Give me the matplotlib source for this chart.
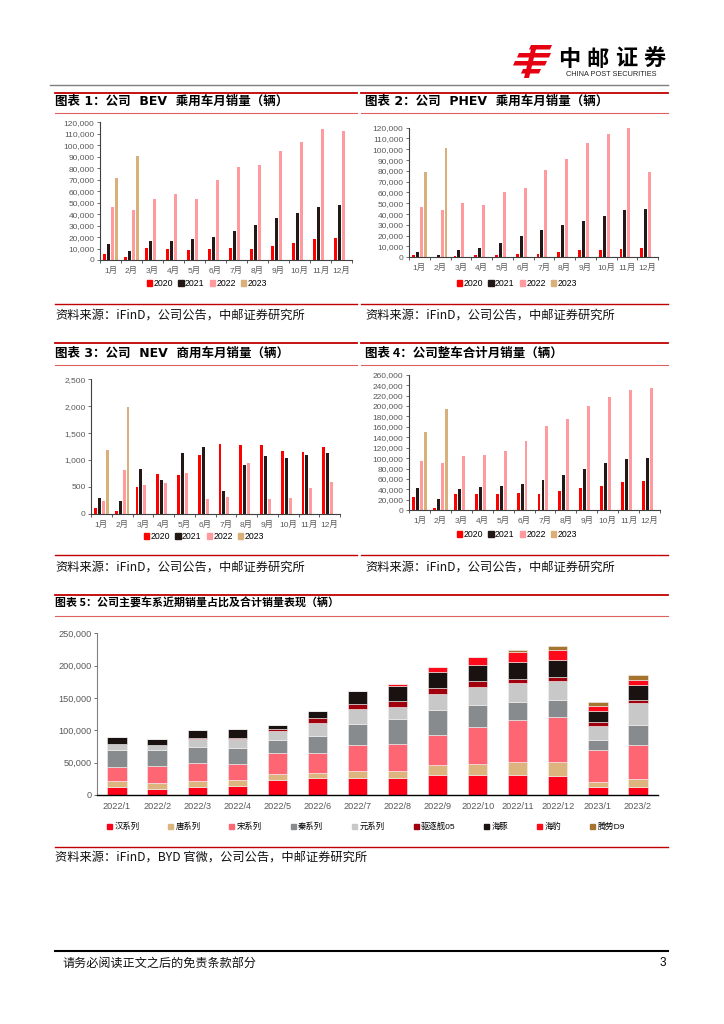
import matplotlib
matplotlib.use("Agg")
import matplotlib.pyplot as plt
import matplotlib.ticker as mtick
from matplotlib.patches import Polygon, Patch
import numpy as np

plt.rcParams["font.family"] = ["Liberation Sans", "Noto Sans CJK SC", "DejaVu Sans"]

W, H = 724, 1024

# ── data ──────────────────────────────────────────────────────────────────────
months = [f"{i}月" for i in range(1, 13)]
years = ["2020", "2021", "2022", "2023"]
year_colors = ["#FF0000", "#231815", "#FF9B9E", "#D9B07A"]

bev_2020 = [5000, 2500, 10500, 9800, 8300, 9800, 10500, 9500, 12000, 15000, 18000, 19500]
bev_2021 = [14000, 7800, 16300, 16200, 18500, 20000, 25000, 30500, 36500, 41000, 46000, 48000]
bev_2022 = [46500, 43500, 53500, 57500, 53200, 69500, 81000, 82500, 95000, 103000, 114000, 112000]
bev_2023 = [71500, 91000]

phev_2020 = [1800, 300, 1000, 2000, 2000, 3000, 3300, 4800, 6300, 7000, 7500, 8200]
phev_2021 = [5000, 2000, 7000, 9000, 13000, 20000, 25000, 30000, 34000, 38500, 43500, 44500]
phev_2022 = [46500, 44000, 50500, 48000, 60500, 64000, 81000, 91000, 106000, 114000, 120000, 79000]
phev_2023 = [79000, 101000]

cv_2020 = [100, 50, 490, 740, 720, 1100, 1300, 1275, 1280, 1170, 1140, 1250]
cv_2021 = [300, 230, 830, 630, 1120, 1250, 430, 900, 1075, 1035, 1095, 1125]
cv_2022 = [240, 810, 540, 570, 760, 270, 315, 940, 280, 300, 480, 595]
cv_2023 = [1180, 1990]

total_2020 = [25500, 4500, 30700, 31300, 31300, 33900, 31300, 37000, 43400, 47300, 54300, 56200]
total_2021 = [42200, 21000, 40900, 45400, 46600, 51100, 57500, 68400, 79200, 90100, 98400, 99700]
total_2022 = [95200, 90700, 104800, 106000, 114400, 133500, 161700, 174400, 200600, 217200, 230000, 234500]
total_2023 = [150800, 193600]

periods = ["2022/1", "2022/2", "2022/3", "2022/4", "2022/5", "2022/6", "2022/7",
           "2022/8", "2022/9", "2022/10", "2022/11", "2022/12", "2023/1", "2023/2"]
series_names = ["汉系列", "唐系列", "宋系列", "秦系列", "元系列", "驱逐舰05", "海豚", "海豹", "腾势D9"]
series_colors = ["#FF0019", "#DDB47E", "#FF6673", "#888B8D", "#C8C8C8", "#A0000E", "#1A1210", "#FF0A1A", "#A57530"]
han = [12800, 8700, 12800, 13300, 23600, 25600, 25600, 25600, 31300, 31300, 31300, 29700, 11800, 11800]
tang = [9200, 10300, 9200, 10300, 8200, 7700, 11800, 10800, 15400, 16900, 20000, 20600, 8700, 12300]
song = [21300, 25600, 27700, 25100, 32800, 31800, 39500, 43100, 46100, 56900, 64600, 70700, 49800, 53300]
qin = [26700, 24600, 24700, 23600, 20000, 26200, 32800, 38400, 39000, 33900, 27700, 25700, 14300, 30300]
yuan = [8200, 8800, 12800, 14400, 13900, 20000, 22600, 18500, 24100, 28200, 29700, 29700, 22600, 33800]
qzj05 = [0, 0, 1000, 2000, 4000, 7700, 7700, 9200, 9200, 9200, 6200, 5700, 5600, 5200]
dolphin = [10700, 8700, 11800, 12800, 5600, 10200, 20500, 23100, 24600, 25100, 26100, 26100, 16900, 23600]
seal = [0, 0, 0, 0, 0, 0, 0, 2600, 7700, 11800, 15400, 15900, 7200, 7100]
d9 = [0, 0, 0, 0, 0, 0, 0, 0, 0, 0, 2500, 5600, 6200, 7700]

# ── layout helpers ────────────────────────────────────────────────────────────
fig = plt.figure(figsize=(W / 100, H / 100), dpi=100)
page = fig.add_axes([0, 0, 1, 1])
page.set_xlim(0, W)
page.set_ylim(H, 0)
page.axis("off")


def px_axes(left, top, right, bottom):
    return fig.add_axes([left / W, 1 - bottom / H, (right - left) / W, (bottom - top) / H])


def fpos(x, y):
    return (x / W, 1 - y / H)


tick_color = "#595959"
kfmt = mtick.FuncFormatter(lambda v, _: f"{v:,.0f}")


def month_chart(box, data, ymax, step, legend_x, legend_y):
    ax = px_axes(*box)
    x = np.arange(12)
    for k, (vals, col) in enumerate(zip(data, year_colors)):
        xs = x[:len(vals)] + (k - 1.5) * 0.19
        ax.bar(xs, vals, width=0.14, color=col, linewidth=0)
    ax.set_xlim(-0.5, 11.5)
    ax.set_ylim(0, ymax)
    ax.yaxis.set_major_locator(mtick.MultipleLocator(step))
    ax.yaxis.set_major_formatter(kfmt)
    ax.set_xticks(x)
    ax.set_xticklabels(months)
    ax.set_xticks(np.arange(-0.5, 12, 1), minor=True)
    ax.tick_params(axis="x", which="major", length=0, labelsize=6, colors=tick_color, pad=5)
    ax.tick_params(axis="x", which="minor", length=2.5, width=0.6, color="#404040")
    ax.tick_params(axis="y", length=2.5, width=0.6, labelsize=6, colors=tick_color, pad=1.5)
    for s in ["top", "right"]:
        ax.spines[s].set_visible(False)
    ax.spines["left"].set_color("#404040")
    ax.spines["left"].set_linewidth(0.8)
    ax.spines["bottom"].set_color("#404040")
    ax.spines["bottom"].set_linewidth(0.8)
    handles = [Patch(color=c) for c in year_colors]
    fig.legend(handles, years, loc="center", bbox_to_anchor=fpos(legend_x, legend_y), ncol=4,
               frameon=False, fontsize=6.3, handlelength=0.6, handleheight=0.6,
               handletextpad=0.15, columnspacing=0.6, borderpad=0)
    return ax


month_chart((100, 122.3, 352, 260), [bev_2020, bev_2021, bev_2022, bev_2023], 120000, 10000, 207, 283.5)
month_chart((409, 127.7, 658, 257.3), [phev_2020, phev_2021, phev_2022, phev_2023], 120000, 10000, 517, 283.5)
month_chart((91, 379.3, 340, 513.7), [cv_2020, cv_2021, cv_2022, cv_2023], 2500, 500, 204, 536.5)
month_chart((409, 374.7, 660, 510.3), [total_2020, total_2021, total_2022, total_2023], 260000, 20000, 517, 534.5)

# ── chart 5: stacked series ───────────────────────────────────────────────────
ax5 = px_axes(97, 633.3, 658, 795)
xp = np.arange(len(periods))
bottom = np.zeros(len(periods))
for vals, col in zip([han, tang, song, qin, yuan, qzj05, dolphin, seal, d9], series_colors):
    v = np.array(vals, dtype=float)
    ax5.bar(xp, v, bottom=bottom, width=0.48, color=col, edgecolor="#F2F2F2", linewidth=0.4)
    bottom += v
ax5.set_xlim(-0.5, len(periods) - 0.5)
ax5.set_ylim(0, 250000)
ax5.yaxis.set_major_locator(mtick.MultipleLocator(50000))
ax5.yaxis.set_major_formatter(kfmt)
ax5.set_xticks(xp)
ax5.set_xticklabels(periods)
ax5.tick_params(axis="x", length=0, labelsize=6.6, colors=tick_color, pad=5)
ax5.tick_params(axis="y", length=2.5, width=0.6, labelsize=6.6, colors=tick_color, pad=1.5)
for s in ["top", "right"]:
    ax5.spines[s].set_visible(False)
ax5.spines["left"].set_color("#808080")
ax5.spines["left"].set_linewidth(0.8)
ax5.spines["bottom"].set_color("black")
ax5.spines["bottom"].set_linewidth(1.0)
handles5 = [Patch(color=c) for c in series_colors]
fig.legend(handles5, series_names, loc="center", bbox_to_anchor=fpos(366, 827), ncol=9,
           frameon=False, fontsize=6, handlelength=0.6, handleheight=0.6,
           handletextpad=0.3, columnspacing=3.45, borderpad=0)

# ── page furniture ────────────────────────────────────────────────────────────
red = "#C00000"
cjk = ["Noto Sans CJK SC", "DejaVu Sans"]
title_kw = dict(fontsize=9, fontweight="bold", va="center", ha="left", family=cjk)
wide_title_kw = {**title_kw, "family": ["DejaVu Sans", "Noto Sans CJK SC"]}
src_kw = dict(fontsize=8.8, va="center", ha="left", color="#111111", family=cjk)

# header
page.plot([50, 668], [85, 85], color="#7F7F7F", lw=1.0)
logo_parts = [
    [(531, 45), (552, 45), (550, 49.5), (529, 49.5)],
    [(519, 53), (551, 53), (549, 57.5), (517, 57.5)],
    [(515, 61), (547, 61), (545, 65.5), (513, 65.5)],
    [(523, 69), (541, 69), (539, 73.5), (521, 73.5)],
    [(532, 45), (537, 45), (529, 78), (524, 78)],
]
for pts in logo_parts:
    page.add_patch(Polygon(pts, closed=True, color="#E60012", lw=0))
for i, ch in enumerate("中邮证券"):
    page.text(569 + i * 28.5, 59, ch, fontsize=16, fontweight="bold", ha="center", va="center",
              family=["Noto Sans CJK SC"])
page.text(611, 74, "CHINA POST SECURITIES", fontsize=5.3, ha="center", va="center", color="#222222")

# section frames
for (x0, x1) in [(55, 357), (361, 668)]:
    for y in (92.7, 343.3):
        page.plot([x0, x1], [y, y], color=red, lw=1.3)
    for y in (113, 364.5):
        page.plot([x0, x1], [y, y], color="#E06060", lw=0.8)
    for y in (304, 555):
        page.plot([x0, x1], [y, y], color=red, lw=1.0)
page.plot([55, 668], [594.7, 594.7], color=red, lw=1.3)
page.plot([55, 668], [616, 616], color="#E06060", lw=0.8)
page.plot([55, 668], [847, 847], color=red, lw=1.0)

page.text(55, 101.7, "图表 1：公司  BEV  乘用车月销量（辆）", **wide_title_kw)
page.text(365, 101.7, "图表 2：公司  PHEV  乘用车月销量（辆）", **wide_title_kw)
page.text(55, 353.5, "图表 3：公司  NEV  商用车月销量（辆）", **wide_title_kw)
page.text(365, 353.5, "图表 4：公司整车合计月销量（辆）", **title_kw)
page.text(55, 603.5, "图表 5：公司主要车系近期销量占比及合计销量表现（辆）",
          **{**title_kw, "fontsize": 7.9})

src = "资料来源：iFinD，公司公告，中邮证券研究所"
for y in (315, 567):
    page.text(55, y, src, **src_kw)
    page.text(365, y, src, **src_kw)
page.text(55, 857, "资料来源：iFinD，BYD 官微，公司公告，中邮证券研究所", **src_kw)

# footer
page.plot([55, 668], [951, 951], color="black", lw=1.5)
page.text(62, 963, "请务必阅读正文之后的免责条款部分", **{**src_kw, "fontsize": 8.7})
page.text(666, 963, "3", fontsize=8.5, ha="right", va="center")

fig.savefig("out.png", dpi=100)
